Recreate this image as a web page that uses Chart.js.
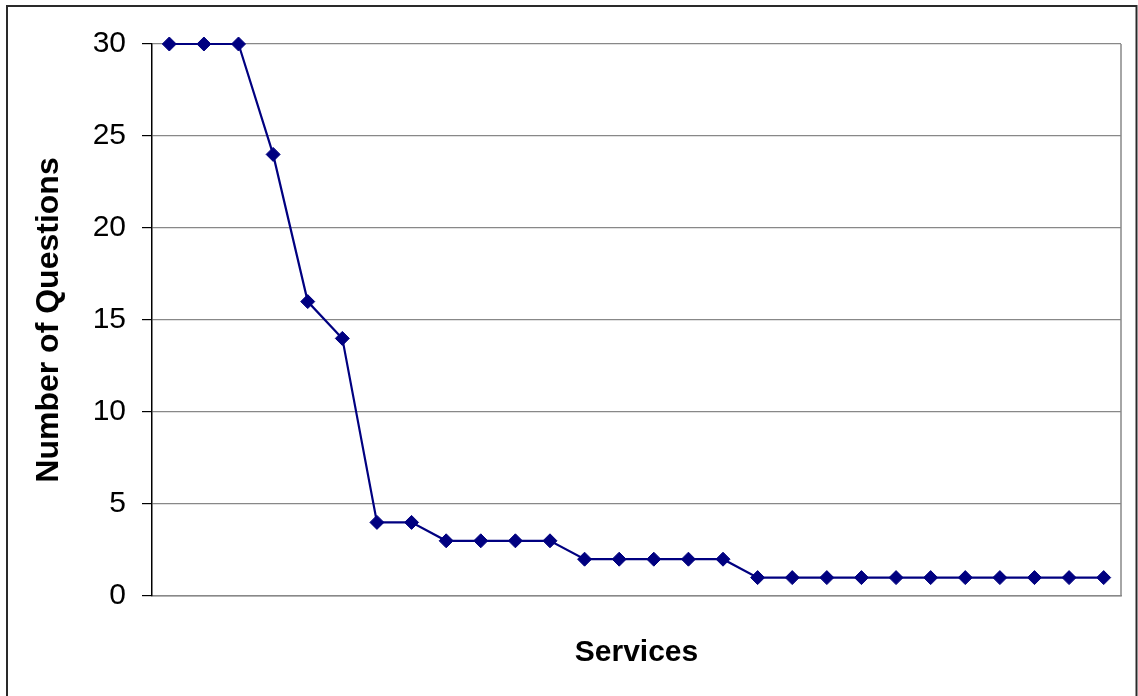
<!DOCTYPE html>
<html>
<head>
<meta charset="utf-8">
<title>Number of Questions per Service</title>
<script src="https://cdn.jsdelivr.net/npm/chart.js@4/dist/chart.umd.min.js"></script>
<style>
  html, body { margin: 0; padding: 0; background: #ffffff; }
  #wrap { width: 1138px; height: 696px; }
</style>
</head>
<body>
<div id="wrap"><canvas id="chart" width="1138" height="696"></canvas></div>
<script>
// Services, ordered by number of questions
const services = [
  '1', '2', '3', '4', '5', '6', '7', '8', '9', '10', '11', '12', '13', '14',
  '15', '16', '17', '18', '19', '20', '21', '22', '23', '24', '25', '26', '27', '28'
];
const questionCounts = [
  30, 30, 30, 24, 16, 14, 4, 4, 3, 3, 3, 3, 2, 2,
  2, 2, 2, 1, 1, 1, 1, 1, 1, 1, 1, 1, 1, 1
];
const yTicks = [0, 5, 10, 15, 20, 25, 30];

const FONT = '"Liberation Sans", Arial, Helvetica, sans-serif';

// Outer frame around the whole figure and the right edge of the plot area
const framePlugin = {
  id: 'frame',
  beforeDatasetsDraw(chart) {
    const { ctx, chartArea } = chart;
    ctx.save();
    ctx.strokeStyle = '#888888';
    ctx.lineWidth = 1.5;
    ctx.beginPath();
    ctx.moveTo(chartArea.right, chartArea.top);
    ctx.lineTo(chartArea.right, chartArea.bottom);
    ctx.stroke();
    ctx.restore();
  },
  afterDraw(chart) {
    const { ctx } = chart;
    ctx.save();
    ctx.strokeStyle = '#2a2a2a';
    ctx.lineWidth = 2;
    ctx.strokeRect(7, 6, 1129.5, chart.height + 20);
    ctx.restore();
  }
};

new Chart(document.getElementById('chart'), {
  type: 'line',
  data: {
    labels: services,
    datasets: [{
      data: questionCounts,
      clip: false,
      borderColor: '#000080',
      backgroundColor: '#000080',
      borderWidth: 2.2,
      tension: 0,
      fill: false,
      pointStyle: 'rectRot',
      pointRadius: 7,
      pointBorderWidth: 1,
      pointBackgroundColor: '#000080',
      pointBorderColor: '#000080'
    }]
  },
  options: {
    responsive: false,
    animation: false,
    devicePixelRatio: 1,
    layout: { padding: { top: 44, right: 17, left: 0, bottom: 0 } },
    plugins: {
      legend: { display: false },
      tooltip: { enabled: false }
    },
    scales: {
      x: {
        type: 'category',
        offset: true,
        grid: { display: false },
        border: { display: true, color: '#888888', width: 1.5 },
        ticks: { display: false },
        title: {
          display: true,
          text: 'Services',
          color: '#000000',
          font: { family: FONT, size: 30, weight: 'bold' },
          padding: { top: 25, bottom: 25 }
        },
        afterFit(scale) { scale.height = 100; }
      },
      y: {
        min: 0,
        max: 30,
        afterBuildTicks(scale) {
          scale.ticks = yTicks.map(v => ({ value: v }));
        },
        grid: {
          color: '#888888',
          lineWidth: 1.2,
          drawTicks: true,
          tickLength: 10,
          tickColor: '#000000'
        },
        border: { display: true, color: '#000000', width: 1.5 },
        ticks: {
          color: '#000000',
          padding: 16,
          font: { family: FONT, size: 30 }
        },
        title: {
          display: true,
          text: 'Number of Questions',
          color: '#000000',
          font: { family: FONT, size: 32, weight: 'bold' },
          padding: { top: 30, bottom: 0 }
        },
        afterFit(scale) { scale.width = 152; }
      }
    }
  },
  plugins: [framePlugin]
});
</script>
</body>
</html>
